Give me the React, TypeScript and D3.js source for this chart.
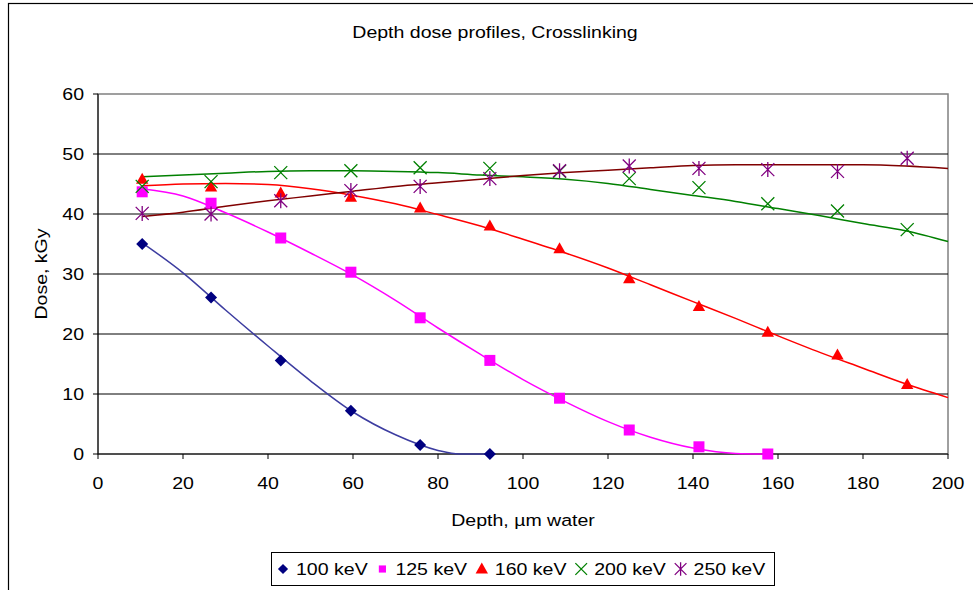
import React from 'react';
import * as d3 from 'd3';

// depth positions of the measured points (µm water)
const depths = [10.4, 26.6, 43.0, 59.5, 75.8, 92.2, 108.6, 125.0, 141.4, 157.6, 174.0, 190.4];

const dose100 = [35.0, 26.1, 15.6, 7.2, 1.5, 0];
const dose125 = [43.7, 41.8, 36.0, 30.3, 22.7, 15.6, 9.3, 4.0, 1.2, 0];
const dose160 = [45.8, 44.5, 43.5, 42.8, 41.0, 38.0, 34.2, 29.2, 24.6, 20.3, 16.5, 11.6];
const dose200 = [44.6, 45.4, 46.9, 47.2, 47.7, 47.6, 47.1, 45.9, 44.4, 41.7, 40.5, 37.4];
const dose250 = [40.1, 40.0, 42.2, 43.9, 44.6, 45.9, 47.2, 48.0, 47.6, 47.4, 47.1, 49.3];

// trend lines: [depth, dose]
const trend100: [number, number][] = [
  [10.4, 35.2], [20, 30.2], [30, 24.0], [40, 18.0], [50, 12.2], [60, 7.0], [70, 3.2], [80, 0.6], [85, 0], [92.2, 0],
];
const trend125: [number, number][] = [
  [10.4, 44.2], [20, 43.0], [30, 40.2], [40, 37.0], [50, 33.5], [60, 29.8], [70, 25.6], [80, 21.0], [90, 16.6],
  [100, 12.4], [110, 8.7], [120, 5.4], [130, 2.8], [140, 1.0], [150, 0.1], [157.6, 0],
];
const trend160: [number, number][] = [
  [10.4, 44.7], [20, 45.0], [30, 45.1], [40, 44.9], [50, 44.2], [60, 43.1], [70, 41.7], [80, 39.9], [90, 38.0],
  [100, 35.8], [110, 33.5], [120, 31.0], [130, 28.2], [140, 25.4], [150, 22.6], [160, 19.7], [170, 16.9],
  [180, 14.3], [190, 11.7], [200, 9.4],
];
const trend200: [number, number][] = [
  [10.4, 46.2], [20, 46.5], [30, 46.8], [40, 47.1], [50, 47.2], [60, 47.2], [70, 47.1], [80, 46.9], [90, 46.5],
  [100, 46.2], [110, 45.8], [120, 45.1], [130, 44.1], [140, 43.1], [150, 42.1], [160, 40.9], [170, 39.7],
  [180, 38.4], [190, 37.2], [200, 35.4],
];
const trend250: [number, number][] = [
  [10.4, 39.6], [20, 40.3], [30, 41.3], [40, 42.2], [50, 43.0], [60, 43.8], [70, 44.6], [80, 45.2], [90, 45.8],
  [100, 46.4], [110, 46.9], [120, 47.3], [130, 47.7], [140, 48.1], [150, 48.2], [160, 48.2], [170, 48.2],
  [180, 48.2], [190, 48.0], [200, 47.6],
];

const seriesNames = ['100 keV', '125 keV', '160 keV', '200 keV', '250 keV'];
const xTicks = [0, 20, 40, 60, 80, 100, 120, 140, 160, 180, 200];
const yTicks = [0, 10, 20, 30, 40, 50, 60];

const FONT = "'Liberation Sans', Arial, sans-serif";
const FS = 17;
const STRETCH = 1.15; // text in the original is a bit wide

const series = [
  { name: seriesNames[0], values: dose100, trend: trend100, color: '#000080', line: '#3c3ca0', marker: 'diamond' },
  { name: seriesNames[1], values: dose125, trend: trend125, color: '#ff00ff', line: '#ff00ff', marker: 'square' },
  { name: seriesNames[2], values: dose160, trend: trend160, color: '#ff0000', line: '#ff0000', marker: 'triangle' },
  { name: seriesNames[3], values: dose200, trend: trend200, color: '#008000', line: '#008000', marker: 'x' },
  { name: seriesNames[4], values: dose250, trend: trend250, color: '#800080', line: '#800000', marker: 'star' },
];

function Txt({ x, y, anchor = 'start', rotate = 0, children }: any) {
  return (
    <text
      transform={`translate(${x},${y}) rotate(${rotate}) scale(${STRETCH},1)`}
      textAnchor={anchor}
      fontSize={FS}
      fill="#000"
    >
      {children}
    </text>
  );
}

function Marker({ kind, cx, cy, color, s = 1 }: { kind: string; cx: number; cy: number; color: string; s?: number }) {
  const t = `translate(${cx},${cy})`;
  if (kind === 'diamond') {
    const r = 6 * s;
    return <path transform={t} d={`M0,${-r}L${r},0L0,${r}L${-r},0Z`} fill={color} />;
  }
  if (kind === 'square') {
    const h = 5.5 * s;
    return <rect transform={t} x={-h} y={-h} width={2 * h} height={2 * h} fill={color} />;
  }
  if (kind === 'triangle') {
    return <path transform={t} d={`M0,${-6.5 * s}L${6.2 * s},${4.5 * s}L${-6.2 * s},${4.5 * s}Z`} fill={color} />;
  }
  const r = 6.5 * s;
  if (kind === 'x') {
    return (
      <path transform={t} d={`M${-r},${-r}L${r},${r}M${-r},${r}L${r},${-r}`} stroke={color} strokeWidth={1.3} fill="none" />
    );
  }
  return (
    <path
      transform={t}
      d={`M${-r},${-r}L${r},${r}M${-r},${r}L${r},${-r}M0,${-r - 1}L0,${r + 1}`}
      stroke={color}
      strokeWidth={1.3}
      fill="none"
    />
  );
}

export default function App() {
  const left = 98;
  const right = 948;
  const top = 94;
  const bottom = 454;

  const x = d3.scaleLinear().domain([0, 200]).range([left, right]);
  const y = d3.scaleLinear().domain([0, 60]).range([bottom, top]);

  const line = d3
    .line<[number, number]>()
    .x((d) => x(d[0]))
    .y((d) => y(d[1]))
    .curve(d3.curveMonotoneX);

  const legendMarkScale = [0.85, 0.65, 1.0, 0.9, 0.9];

  return (
    <svg
      width={973}
      height={590}
      style={{ position: 'absolute', left: 0, top: 0, background: '#fff' }}
      fontFamily={FONT}
    >
      <rect x={8.5} y={3.5} width={1000} height={700} fill="#fff" stroke="#000" strokeWidth={1.2} />

      <Txt x={495} y={38} anchor="middle">
        Depth dose profiles, Crosslinking
      </Txt>

      {/* plot frame */}
      <rect x={left} y={top} width={right - left} height={bottom - top} fill="#fff" stroke="#808080" strokeWidth={1.5} />

      {/* gridlines */}
      {yTicks
        .filter((v) => v > 0 && v < 60)
        .map((v) => (
          <line key={v} x1={left} x2={right} y1={y(v)} y2={y(v)} stroke="#000" strokeWidth={1} />
        ))}

      {/* axes */}
      <line x1={left} x2={left} y1={top} y2={bottom} stroke="#000" strokeWidth={1} />
      <line x1={left} x2={right} y1={bottom} y2={bottom} stroke="#000" strokeWidth={1} />
      {yTicks.map((v) => (
        <g key={v}>
          <line x1={left - 5} x2={left} y1={y(v)} y2={y(v)} stroke="#000" />
          <Txt x={84} y={y(v) + 6} anchor="end">
            {v}
          </Txt>
        </g>
      ))}
      {xTicks.map((v) => (
        <g key={v}>
          <line x1={x(v)} x2={x(v)} y1={bottom} y2={bottom + 5} stroke="#000" />
          <Txt x={x(v)} y={489} anchor="middle">
            {v}
          </Txt>
        </g>
      ))}

      <Txt x={523} y={526} anchor="middle">
        Depth, µm water
      </Txt>
      <Txt x={47} y={274} anchor="middle" rotate={-90}>
        Dose, kGy
      </Txt>

      {/* trend lines */}
      {series.map((s) => (
        <path key={s.name} d={line(s.trend)!} fill="none" stroke={s.line} strokeWidth={1.5} />
      ))}

      {/* markers */}
      {series.map((s) =>
        s.values.map((v, i) => (
          <Marker key={s.name + i} kind={s.marker} cx={x(depths[i])} cy={y(v)} color={s.color} />
        ))
      )}

      {/* legend */}
      <rect x={271.5} y={552.5} width={503} height={33} fill="#fff" stroke="#000" strokeWidth={1} />
      {series.map((s, i) => {
        const mx = 283 + i * 99.4;
        return (
          <g key={s.name}>
            <Marker kind={s.marker} cx={mx} cy={569} color={s.color} s={legendMarkScale[i]} />
            <Txt x={mx + 13} y={575}>
              {s.name}
            </Txt>
          </g>
        );
      })}
    </svg>
  );
}
